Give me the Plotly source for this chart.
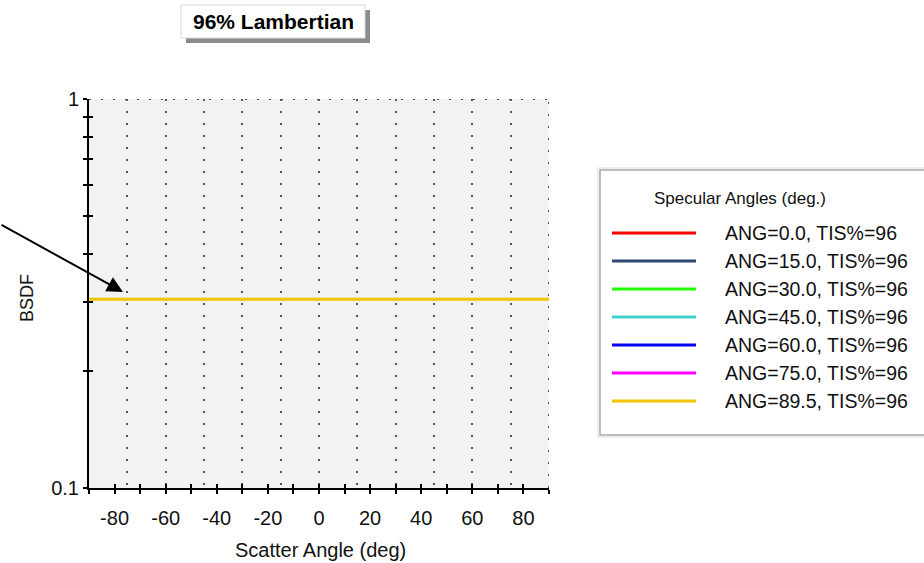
import plotly.graph_objects as go

# ---- data ----
series_names = ["ANG=0.0, TIS%=96", "ANG=15.0, TIS%=96", "ANG=30.0, TIS%=96",
                "ANG=45.0, TIS%=96", "ANG=60.0, TIS%=96", "ANG=75.0, TIS%=96",
                "ANG=89.5, TIS%=96"]
series_colors = ["#ff0000", "#2f4a72", "#22ff00", "#44d0cc", "#0000ff", "#ff00ff", "#f0c400"]
scatter_angle = [-90, -75, -60, -45, -30, -15, 0, 15, 30, 45, 60, 75, 90]
bsdf_values = [0.3056, 0.3056, 0.3056, 0.3056, 0.3056, 0.3056, 0.3056,
               0.3056, 0.3056, 0.3056, 0.3056, 0.3056, 0.3056]
x_tick_vals = [-90, -80, -70, -60, -50, -40, -30, -20, -10, 0, 10, 20, 30, 40, 50, 60, 70, 80, 90]
x_tick_text = ["", "-80", "", "-60", "", "-40", "", "-20", "", "0", "", "20", "", "40", "", "60", "", "80", ""]
x_grid_vals = [-75, -60, -45, -30, -15, 0, 15, 30, 45, 60, 75, 90]
y_grid_vals = [1]
y_tick_vals = [0.1, 0.2, 0.3, 0.4, 0.5, 0.6, 0.7, 0.8, 0.9, 1]
y_tick_text = ["0.1", "", "", "", "", "", "", "", "", "1"]

W, H = 924, 563
L, R, T, B = 89, 549, 99, 488


def px(x):
    return (x - L) / (R - L)


def py(y):
    return (B - y) / (B - T)


FONT = "Liberation Sans, Arial, sans-serif"
GRID_COLOR = "#555555"
GRID_DASH = "2px,10px"

fig = go.Figure()
n = len(series_names)
for i, (name, col) in enumerate(zip(series_names, series_colors)):
    top = i == n - 1
    fig.add_trace(go.Scatter(x=scatter_angle, y=bsdf_values, mode="lines", name=name,
                             line=dict(color=col, width=3 if top else 1.5), showlegend=False,
                             hoverinfo="skip", xaxis="x2", yaxis="y2"))
# empty traces so that the grid and inside-tick axes get drawn
fig.add_trace(go.Scatter(x=[], y=[], xaxis="x3", yaxis="y3", showlegend=False, hoverinfo="skip"))
fig.add_trace(go.Scatter(x=[], y=[], xaxis="x", yaxis="y", showlegend=False, hoverinfo="skip"))

common_x = dict(range=[-90, 90], zeroline=False, fixedrange=True)
common_y = dict(type="log", range=[-1, 0], zeroline=False, fixedrange=True)

layout = dict(
    width=W, height=H,
    margin=dict(l=L, r=W - R, t=T, b=H - B, pad=0),
    paper_bgcolor="white", plot_bgcolor="#f2f2f2",
    font=dict(family=FONT, size=20, color="black"),
    xaxis=dict(**common_x, tickmode="array", tickvals=x_grid_vals, showticklabels=False,
               ticks="", showgrid=True, gridcolor=GRID_COLOR, gridwidth=2, griddash=GRID_DASH,
               showline=False),
    xaxis2=dict(**common_x, overlaying="x", anchor="y2", side="bottom", tickmode="array",
                tickvals=x_tick_vals, ticktext=x_tick_text, ticks="outside", ticklen=4,
                tickwidth=2, tickcolor="black", showgrid=False, showline=True,
                linecolor="black", linewidth=2, ticklabelstandoff=7,
                tickfont=dict(size=20, family=FONT, color="#111")),
    xaxis3=dict(**common_x, overlaying="x", anchor="y3", side="bottom", tickmode="array",
                tickvals=x_tick_vals, ticks="inside", ticklen=4, tickwidth=2,
                tickcolor="black", showticklabels=False, showgrid=False, showline=False),
    yaxis=dict(**common_y, tickmode="array", tickvals=y_grid_vals, showticklabels=False, ticks="",
               showgrid=True, gridcolor=GRID_COLOR, gridwidth=2, griddash=GRID_DASH,
               showline=False),
    yaxis2=dict(**common_y, overlaying="y", anchor="x2", side="left", tickmode="array",
                tickvals=y_tick_vals, ticktext=y_tick_text, ticks="outside", ticklen=4,
                tickwidth=2, tickcolor="black", showgrid=False, showline=True,
                linecolor="black", linewidth=2, tickfont=dict(size=20, family=FONT, color="#111")),
    yaxis3=dict(**common_y, overlaying="y", anchor="x3", side="left", tickmode="array",
                tickvals=y_tick_vals, ticks="inside", ticklen=4, tickwidth=2,
                tickcolor="black", showticklabels=False, showgrid=False, showline=False),
    showlegend=False,
)
fig.update_layout(**layout)

shapes = []
annotations = []

# gridlines that sit on the plot edges (plotly drops those from the axis grid)
shapes.append(dict(type="line", xref="x", yref="y", x0=-90, x1=90, y0=y_grid_vals[0],
                   y1=y_grid_vals[0], line=dict(color=GRID_COLOR, width=2, dash=GRID_DASH),
                   layer="below"))
shapes.append(dict(type="line", xref="x", yref="y", x0=x_grid_vals[-1], x1=x_grid_vals[-1],
                   y0=0.1, y1=1, line=dict(color=GRID_COLOR, width=2, dash=GRID_DASH),
                   layer="below"))

# title box with shadow
shapes.append(dict(type="rect", xref="paper", yref="paper", x0=px(186), x1=px(370),
                   y0=py(43), y1=py(10), fillcolor="#8c8c8c", line=dict(width=0), layer="above"))
shapes.append(dict(type="rect", xref="paper", yref="paper", x0=px(181), x1=px(365),
                   y0=py(38), y1=py(5), fillcolor="white", line=dict(color="#d8d8d8", width=1),
                   layer="above"))
annotations.append(dict(text="<b>96% Lambertian</b>", xref="paper", yref="paper",
                        x=px(273), y=py(22), xanchor="center", yanchor="middle",
                        showarrow=False, font=dict(size=21, family=FONT, color="black")))

# axis titles
annotations.append(dict(text="Scatter Angle (deg)", xref="paper", yref="paper",
                        x=px(320), y=py(550), xanchor="center", yanchor="middle",
                        showarrow=False, font=dict(size=20, family=FONT, color="#111")))
annotations.append(dict(text="BSDF", xref="paper", yref="paper", textangle=-90,
                        x=px(27), y=py(298), xanchor="center", yanchor="middle",
                        showarrow=False, font=dict(size=18, family=FONT, color="#111")))

# arrow
annotations.append(dict(text="", xref="paper", yref="paper", x=px(123), y=py(292),
                        ax=-125, ay=-68, axref="pixel", ayref="pixel", showarrow=True,
                        arrowhead=2, arrowsize=1.6, arrowwidth=2, arrowcolor="black",
                        standoff=0))

# legend box
shapes.append(dict(type="rect", xref="paper", yref="paper", x0=px(598), x1=px(940),
                   y0=py(437), y1=py(168), fillcolor="white", line=dict(color="#dadada", width=1),
                   layer="above"))
shapes.append(dict(type="rect", xref="paper", yref="paper", x0=px(600), x1=px(940),
                   y0=py(435), y1=py(170), fillcolor="rgba(0,0,0,0)",
                   line=dict(color="#a8a8a8", width=1.5), layer="above"))
annotations.append(dict(text="Specular Angles (deg.)", xref="paper", yref="paper",
                        x=px(740), y=py(198), xanchor="center", yanchor="middle",
                        showarrow=False, font=dict(size=17, family=FONT, color="#111")))
for i, (name, col) in enumerate(zip(series_names, series_colors)):
    yy = 233 + 28 * i
    shapes.append(dict(type="line", xref="paper", yref="paper", x0=px(612), x1=px(696),
                       y0=py(yy), y1=py(yy), line=dict(color=col, width=3), layer="above"))
    annotations.append(dict(text=name, xref="paper", yref="paper", x=px(723), y=py(yy),
                            xanchor="left", yanchor="middle", showarrow=False,
                            font=dict(size=19.5, family=FONT, color="#111")))

fig.update_layout(shapes=shapes, annotations=annotations)
fig.write_html("out.html")
